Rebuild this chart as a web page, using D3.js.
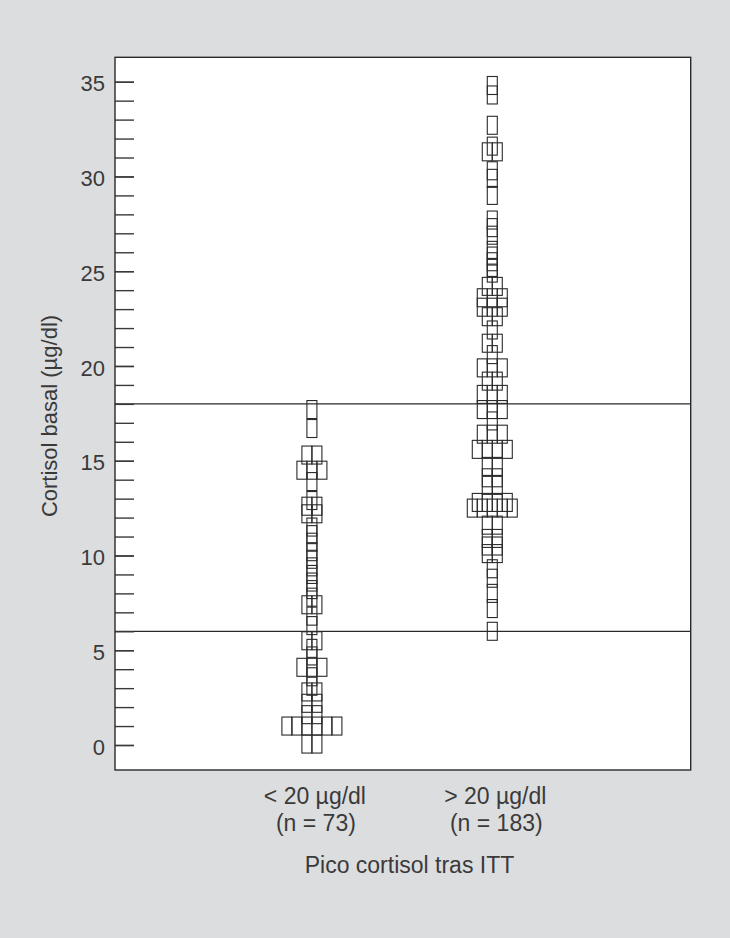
<!DOCTYPE html>
<html><head><meta charset="utf-8">
<script src="https://cdn.jsdelivr.net/npm/d3@7"></script>
<style>html,body{margin:0;padding:0;background:#dcdddf;} svg{display:block;}</style>
</head><body><svg id="c" width="730" height="938"></svg>
<script>
// ---- data ----
const categories = ["< 20 µg/dl", "> 20 µg/dl"];
const countLabels = ["(n = 73)", "(n = 183)"];
// group "< 20 µg/dl": basal cortisol values (rows) and how many patients share each row
const lowValues = [17.7, 16.7, 15.3, 14.5, 13.9, 12.9, 12.6, 12.2, 11.5, 11.1, 10.7, 10.2, 9.8, 9.4, 9.0, 8.6, 8.2, 7.8, 7.4, 6.8, 6.3, 5.5, 5.1, 4.7, 4.1, 3.6, 3.1, 2.8, 2.2, 1.6, 1.0, 0.05];
const lowCounts = [1, 1, 2, 3, 1, 1, 2, 2, 1, 1, 1, 1, 1, 1, 1, 1, 1, 1, 2, 1, 1, 2, 1, 1, 3, 1, 1, 2, 2, 2, 6, 2];
// group "> 20 µg/dl"
const highValues = [34.8, 34.3, 32.7, 31.6, 31.3, 30.3, 29.9, 29.0, 27.7, 27.3, 26.9, 26.1, 25.8, 25.5, 25.2, 24.9, 24.2, 23.6, 23.1, 22.6, 21.9, 21.2, 20.6, 19.9, 19.2, 18.5, 17.7, 17.1, 16.4, 15.6, 14.7, 14.1, 13.7, 12.8, 12.5, 11.6, 10.9, 10.5, 10.1, 9.3, 8.8, 8.0, 7.2, 6.0];
const highCounts = [1, 1, 1, 1, 2, 1, 1, 1, 1, 1, 1, 1, 1, 1, 1, 1, 2, 3, 3, 2, 1, 2, 1, 3, 2, 3, 3, 1, 3, 4, 2, 2, 2, 4, 5, 2, 2, 2, 2, 1, 1, 1, 1, 1];
const yTickValues = [0, 5, 10, 15, 20, 25, 30, 35];
const yMinorTickValues = d3.range(0, 36, 1);
const refLineValues = [6, 18];
const yTitle = "Cortisol basal (µg/dl)";
const xTitle = "Pico cortisol tras ITT";

// ---- layout ----
const FONT = "'Liberation Sans', Arial, Helvetica, sans-serif";
const TEXT = "#3a3a3a";
const plot = {left: 115, right: 690.7, top: 57.3, bottom: 770};
const svg = d3.select("#c");

const y = d3.scaleLinear().domain([0, 35]).range([745, 81.7]);
const x = d3.scalePoint().domain(categories).range([113.5, 690.7]).padding(1.1);
const boxW = 10, boxH = 18;

svg.append("rect").attr("width", 730).attr("height", 938).attr("fill", "#dcdddf");
svg.append("rect")
  .attr("x", plot.left).attr("y", plot.top)
  .attr("width", plot.right - plot.left).attr("height", plot.bottom - plot.top)
  .attr("fill", "#ffffff");

// reference lines
svg.append("g").selectAll("line").data(refLineValues).join("line")
  .attr("x1", plot.left).attr("x2", plot.right)
  .attr("y1", d => y(d)).attr("y2", d => y(d))
  .attr("stroke", "#2a2a2a").attr("stroke-width", 1.3);

// axes
const minorAxis = d3.axisLeft(y).tickValues(yMinorTickValues).tickSizeInner(-19).tickSizeOuter(0).tickFormat("");
const majorAxis = d3.axisLeft(y).tickValues(yTickValues).tickSizeInner(-19).tickSizeOuter(0).tickPadding(10).tickFormat(d3.format("d"));
const gMinor = svg.append("g").attr("transform", `translate(${plot.left},0)`).call(minorAxis);
const gMajor = svg.append("g").attr("transform", `translate(${plot.left},0)`).call(majorAxis);
[gMinor, gMajor].forEach(g => {
  g.select(".domain").remove();
  g.selectAll(".tick line").attr("stroke", "#3a3a3a").attr("stroke-width", 1.4);
});
gMajor.selectAll(".tick text")
  .attr("font-family", FONT).attr("font-size", 22).attr("fill", TEXT)
  .attr("dy", "0.42em");

// points: each row spread horizontally, side by side
function rows(cat, values, counts) {
  const out = [];
  values.forEach((v, j) => {
    const k = counts[j];
    for (let i = 0; i < k; i++) out.push({cat, value: v, off: (i - (k - 1) / 2) * boxW});
  });
  return out;
}
const points = rows(categories[0], lowValues, lowCounts).concat(rows(categories[1], highValues, highCounts));
svg.append("g").selectAll("rect").data(points).join("rect")
  .attr("x", d => x(d.cat) + d.off - boxW / 2)
  .attr("y", d => y(d.value) - boxH / 2)
  .attr("width", boxW).attr("height", boxH)
  .attr("fill", "none").attr("stroke", "#2a2a2a").attr("stroke-width", 1.1);

// frame
svg.append("rect")
  .attr("x", plot.left).attr("y", plot.top)
  .attr("width", plot.right - plot.left).attr("height", plot.bottom - plot.top)
  .attr("fill", "none").attr("stroke", "#2a2a2a").attr("stroke-width", 1.4);

// category labels
const gx = svg.append("g").attr("font-family", FONT).attr("font-size", 23).attr("fill", TEXT).attr("text-anchor", "middle");
gx.selectAll("text.cat").data(categories).join("text").attr("class", "cat")
  .attr("x", d => x(d) + 3).attr("y", 804).text(d => d);
gx.selectAll("text.n").data(countLabels).join("text").attr("class", "n")
  .attr("x", (d, i) => x(categories[i]) + 4).attr("y", 831).text(d => d);
gx.append("text").attr("x", 409.5).attr("y", 873).text(xTitle);

// y title
svg.append("text")
  .attr("transform", `translate(57,416) rotate(-90)`)
  .attr("text-anchor", "middle")
  .attr("font-family", FONT).attr("font-size", 22).attr("fill", TEXT)
  .text(yTitle);
</script></body></html>
